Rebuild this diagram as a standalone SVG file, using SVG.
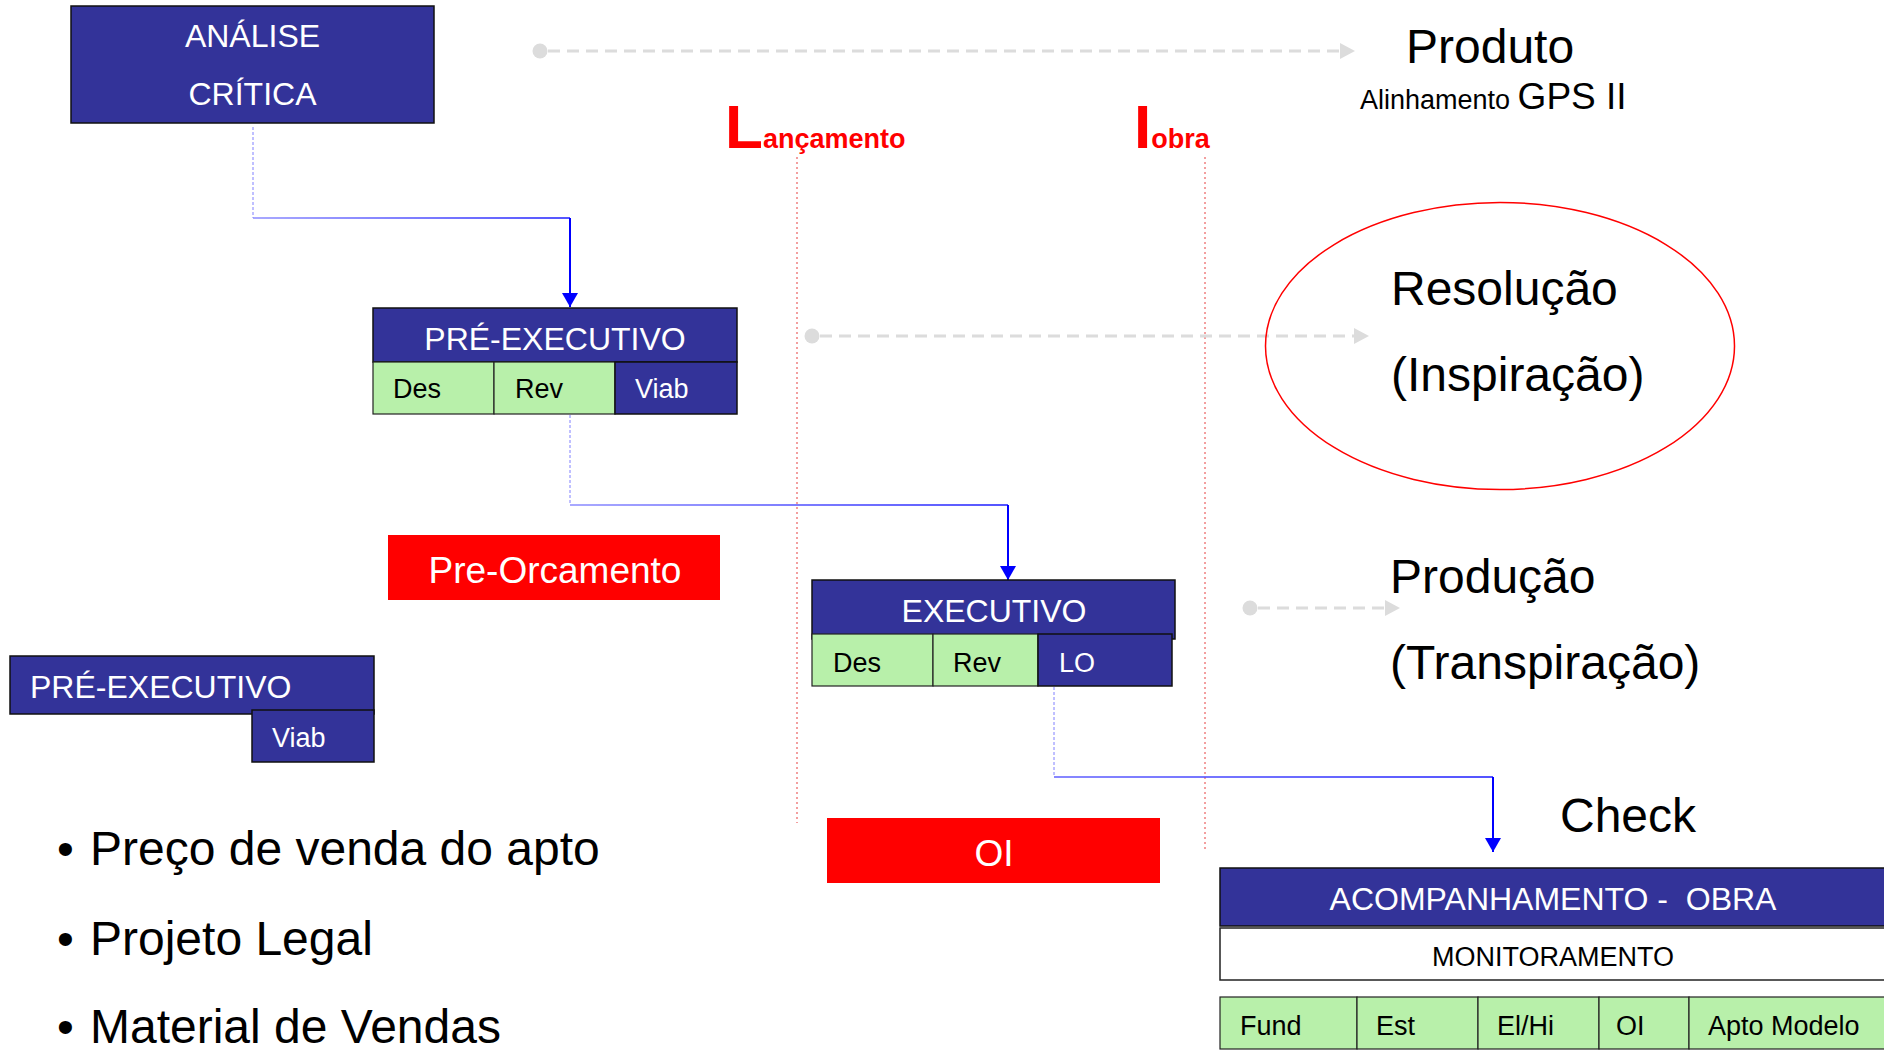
<svg xmlns="http://www.w3.org/2000/svg" width="1884" height="1052" viewBox="0 0 1884 1052">
<style>
text{font-family:"Liberation Sans",Arial,sans-serif}
.navy{fill:#333399;stroke:#111;stroke-width:1.5}
.green{fill:#b8f0aa;stroke:#222;stroke-width:1.2}
.white{fill:#fff;stroke:#222;stroke-width:1.5}
.red{fill:#ff0000}
.hw{fill:#fff;font-size:32px;text-anchor:middle}
.cw{fill:#fff;font-size:27px}
.cb{fill:#000;font-size:27px}
.big{fill:#000;font-size:48px}
.bul{fill:#000;font-size:48px}
.gdash{stroke:#dcdcdc;stroke-width:3;stroke-dasharray:12 7;fill:none}
.dot{fill:#dcdcdc}
.src{stroke:#8080ff;stroke-width:1;stroke-dasharray:3 2;fill:none}
.fin{stroke:#0000ff;stroke-width:2;fill:none}
.vline{stroke:#f08080;stroke-width:1.5;stroke-dasharray:2 3;fill:none}
</style>
<defs>
<marker id="blueArrow" viewBox="0 0 14 16" markerWidth="14" markerHeight="16" refX="14" refY="8" orient="auto" markerUnits="userSpaceOnUse">
<path d="M0,0 L14,8 L0,16 z" fill="#0000ff"/>
</marker>
<marker id="greyArrow" viewBox="0 0 15 16" markerWidth="15" markerHeight="16" refX="1" refY="8" orient="auto" markerUnits="userSpaceOnUse">
<path d="M0,0 L15,8 L0,16 z" fill="#dcdcdc"/>
</marker>
<linearGradient id="g1" gradientUnits="userSpaceOnUse" x1="253" y1="0" x2="570" y2="0"><stop offset="0" stop-color="#8c8cff"/><stop offset="1" stop-color="#1a1aff"/></linearGradient>
<linearGradient id="g2" gradientUnits="userSpaceOnUse" x1="570" y1="0" x2="1008" y2="0"><stop offset="0" stop-color="#8c8cff"/><stop offset="1" stop-color="#1a1aff"/></linearGradient>
<linearGradient id="g3" gradientUnits="userSpaceOnUse" x1="1054" y1="0" x2="1493" y2="0"><stop offset="0" stop-color="#6060ff"/><stop offset="1" stop-color="#1a1aff"/></linearGradient>
</defs>
<rect width="1884" height="1052" fill="#fff"/>

<g id="guides">
<path class="vline" d="M797,157 V823"/>
<path class="vline" d="M1205,157 V851"/>
</g>

<g id="connectors">
<circle class="dot" cx="540" cy="51" r="7.5"/>
<path class="gdash" d="M548,51 H1341" marker-end="url(#greyArrow)"/>
<circle class="dot" cx="812" cy="336" r="7.5"/>
<path class="gdash" d="M820,336 H1355" marker-end="url(#greyArrow)"/>
<circle class="dot" cx="1250" cy="608" r="7.5"/>
<path class="gdash" d="M1258,608 H1386" marker-end="url(#greyArrow)"/>

<path class="src" d="M253,127 V218"/>
<path d="M253,218 H570" stroke="url(#g1)" stroke-width="1.5" fill="none"/>
<path class="fin" d="M570,218 V307" marker-end="url(#blueArrow)"/>

<path class="src" d="M570,415 V505"/>
<path d="M570,505 H1008" stroke="url(#g2)" stroke-width="1.5" fill="none"/>
<path class="fin" d="M1008,505 V580" marker-end="url(#blueArrow)"/>

<path class="src" d="M1054,687 V777"/>
<path d="M1054,777 H1493" stroke="url(#g3)" stroke-width="1.5" fill="none"/>
<path class="fin" d="M1493,777 V852" marker-end="url(#blueArrow)"/>
</g>

<g id="analise">
<rect class="navy" x="71" y="6" width="363" height="117"/>
<text class="hw" x="252.5" y="47">ANÁLISE</text>
<text class="hw" x="252.5" y="105">CRÍTICA</text>
</g>

<g id="pre-executivo">
<rect class="navy" x="373" y="308" width="364" height="54"/>
<text class="hw" x="555" y="350">PRÉ-EXECUTIVO</text>
<rect class="green" x="373" y="362" width="121" height="52"/>
<rect class="green" x="494" y="362" width="121" height="52"/>
<rect class="navy" x="615" y="362" width="122" height="52"/>
<text class="cb" x="393" y="398">Des</text>
<text class="cb" x="515" y="398">Rev</text>
<text class="cw" x="635" y="398">Viab</text>
</g>

<g id="pre-orcamento">
<rect class="red" x="388" y="535" width="332" height="65"/>
<text x="555" y="583" fill="#fff" font-size="37" text-anchor="middle">Pre-Orcamento</text>
</g>

<g id="pre-executivo-2">
<rect class="navy" x="10" y="656" width="364" height="58"/>
<text x="30" y="698" fill="#fff" font-size="32">PRÉ-EXECUTIVO</text>
<rect class="navy" x="252" y="710" width="122" height="52"/>
<text class="cw" x="272" y="747">Viab</text>
</g>

<g id="executivo">
<rect class="navy" x="812" y="580" width="363" height="59"/>
<text class="hw" x="994" y="622">EXECUTIVO</text>
<rect class="green" x="812" y="634" width="121" height="52"/>
<rect class="green" x="933" y="634" width="105" height="52"/>
<rect class="navy" x="1038" y="634" width="134" height="52"/>
<text class="cb" x="833" y="672">Des</text>
<text class="cb" x="953" y="672">Rev</text>
<text class="cw" x="1059" y="672">LO</text>
</g>

<g id="oi">
<rect class="red" x="827" y="818" width="333" height="65"/>
<text x="994" y="866" fill="#fff" font-size="37" text-anchor="middle">OI</text>
</g>

<g id="lancamento">
<text x="725" y="148" fill="#ff0000" font-weight="bold"><tspan font-size="62">L</tspan><tspan font-size="27">ançamento</tspan></text>
</g>
<g id="obra">
<text x="1134" y="148" fill="#ff0000" font-weight="bold"><tspan font-size="62">I</tspan><tspan font-size="27">obra</tspan></text>
</g>

<g id="produto">
<text class="big" x="1406" y="63">Produto</text>
<text x="1360" y="109" fill="#000"><tspan font-size="27">Alinhamento </tspan><tspan font-size="37">GPS II</tspan></text>
</g>

<g id="resolucao">
<ellipse cx="1500" cy="346" rx="234.5" ry="143.5" fill="none" stroke="#ff0000" stroke-width="1.5"/>
<text class="big" x="1391" y="305">Resolução</text>
<text class="big" x="1391" y="391">(Inspiração)</text>
</g>

<g id="producao">
<text class="big" x="1390" y="593">Produção</text>
<text class="big" x="1390" y="679">(Transpiração)</text>
</g>

<g id="check">
<text class="big" x="1560" y="832">Check</text>
</g>

<g id="acompanhamento">
<rect class="navy" x="1220" y="868" width="668" height="58"/>
<text x="1553" y="910" fill="#fff" font-size="32" text-anchor="middle" xml:space="preserve">ACOMPANHAMENTO -  OBRA</text>
<rect class="white" x="1220" y="928" width="668" height="52"/>
<text x="1553" y="966" fill="#000" font-size="27" text-anchor="middle">MONITORAMENTO</text>
<rect class="green" x="1220" y="997" width="137" height="52"/>
<rect class="green" x="1357" y="997" width="121" height="52"/>
<rect class="green" x="1478" y="997" width="121" height="52"/>
<rect class="green" x="1599" y="997" width="90" height="52"/>
<rect class="green" x="1689" y="997" width="199" height="52"/>
<text class="cb" x="1240" y="1035">Fund</text>
<text class="cb" x="1376" y="1035">Est</text>
<text class="cb" x="1497" y="1035">El/Hi</text>
<text class="cb" x="1616" y="1035">OI</text>
<text class="cb" x="1708" y="1035">Apto Modelo</text>
</g>

<g id="bullets">
<text class="bul" x="57" y="865">•</text>
<text class="bul" x="90" y="865">Preço de venda do apto</text>
<text class="bul" x="57" y="955">•</text>
<text class="bul" x="90" y="955">Projeto Legal</text>
<text class="bul" x="57" y="1043">•</text>
<text class="bul" x="90" y="1043">Material de Vendas</text>
</g>
</svg>
